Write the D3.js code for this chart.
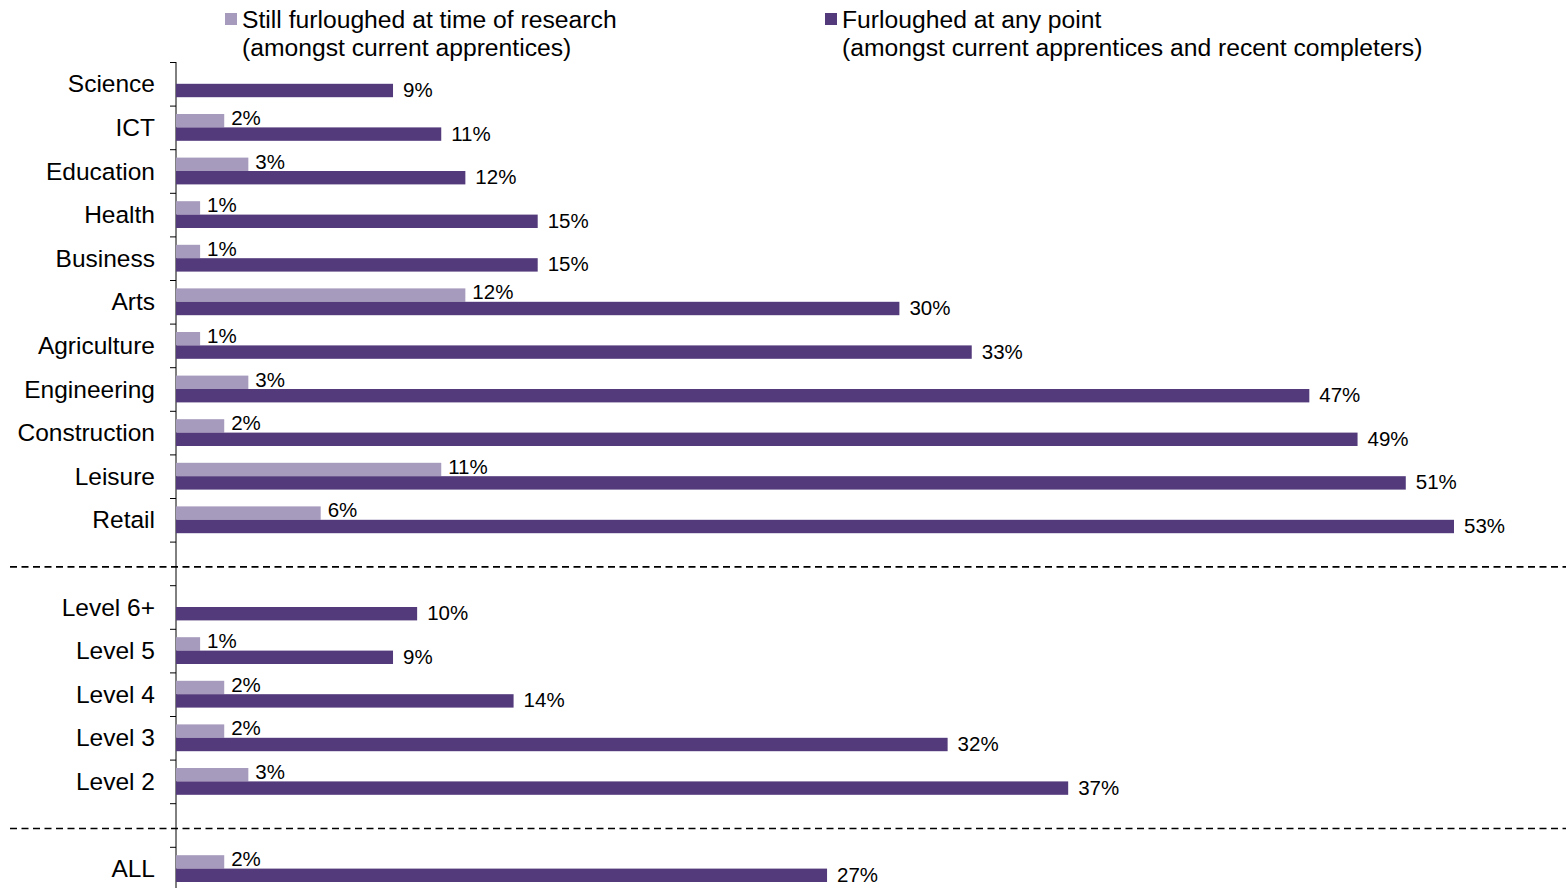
<!DOCTYPE html>
<html>
<head>
<meta charset="utf-8">
<script src="https://cdn.jsdelivr.net/npm/d3@7"></script>
<style>
  body { margin: 0; background: #fff; }
  svg { display: block; font-family: 'Liberation Sans', Arial, sans-serif; }
</style>
</head>
<body>
<div id="chart"></div>
<script>
// category rows, top to bottom (null = blank separator slot)
const categories = ['Science', 'ICT', 'Education', 'Health', 'Business', 'Arts', 'Agriculture',
  'Engineering', 'Construction', 'Leisure', 'Retail', null,
  'Level 6+', 'Level 5', 'Level 4', 'Level 3', 'Level 2', null, 'ALL']
// still furloughed at time of research (%)
const stillValues = [null, 2, 3, 1, 1, 12, 1, 3, 2, 11, 6, null,
  null, 1, 2, 2, 3, null, 2]
// furloughed at any point (%)
const anyValues = [9, 11, 12, 15, 15, 30, 33, 47, 49, 51, 53, null,
  10, 9, 14, 32, 37, null, 27]
const seriesNames = [
  ['Still furloughed at time of research', '(amongst current apprentices)'],
  ['Furloughed at any point', '(amongst current apprentices and recent completers)']
]

const width = 1566
const height = 888
const colors = ['#a69bbd', '#533a7b']
const barH = 13.4

const svg = d3.select('#chart').append('svg')
  .attr('width', width)
  .attr('height', height)

const slots = categories.map((d, i) => i)
const y = d3.scaleBand().domain(slots).range([62, 890.4]).padding(0)
const x = d3.scaleLinear().domain([0, d3.max(anyValues)]).range([176, 1454])
const bw = y.bandwidth()

// axis line + ticks at slot boundaries
svg.append('line')
  .attr('x1', x(0)).attr('x2', x(0))
  .attr('y1', y(0)).attr('y2', height)
  .attr('stroke', '#000').attr('stroke-width', 1)

svg.selectAll('.tick')
  .data(slots)
  .enter().append('line')
  .attr('class', 'tick')
  .attr('x1', x(0) - 6).attr('x2', x(0))
  .attr('y1', d => y(d) + 0.5).attr('y2', d => y(d) + 0.5)
  .attr('stroke', '#000').attr('stroke-width', 1)

// separator dashed lines
svg.selectAll('.sep')
  .data(slots.filter(i => categories[i] === null))
  .enter().append('line')
  .attr('class', 'sep')
  .attr('x1', 10).attr('x2', width)
  .attr('y1', d => y(d) + bw * 0.58).attr('y2', d => y(d) + bw * 0.58)
  .attr('stroke', '#000').attr('stroke-width', 1.6)
  .attr('stroke-dasharray', '7,4.5')

// category labels
svg.selectAll('.cat')
  .data(slots.filter(i => categories[i] !== null))
  .enter().append('text')
  .attr('class', 'cat')
  .attr('x', 155)
  .attr('y', d => y(d) + bw / 2)
  .attr('dy', '0.35em')
  .attr('text-anchor', 'end')
  .attr('font-size', 24.5)
  .attr('fill', '#000')
  .text(d => categories[d])

// still furloughed bars (upper)
const still = slots.filter(i => stillValues[i] != null)
svg.selectAll('.bar-still')
  .data(still)
  .enter().append('rect')
  .attr('class', 'bar-still')
  .attr('x', x(0))
  .attr('y', d => y(d) + bw / 2 - barH)
  .attr('width', d => x(stillValues[d]) - x(0))
  .attr('height', barH)
  .attr('fill', colors[0])

svg.selectAll('.lbl-still')
  .data(still)
  .enter().append('text')
  .attr('class', 'lbl-still')
  .attr('x', d => x(stillValues[d]) + 7)
  .attr('y', d => y(d) + bw / 2 - 9.5)
  .attr('dy', '0.35em')
  .attr('font-size', 20.5)
  .text(d => stillValues[d] + '%')

// furloughed at any point bars (lower)
const any = slots.filter(i => anyValues[i] != null)
svg.selectAll('.bar-any')
  .data(any)
  .enter().append('rect')
  .attr('class', 'bar-any')
  .attr('x', x(0))
  .attr('y', d => y(d) + bw / 2)
  .attr('width', d => x(anyValues[d]) - x(0))
  .attr('height', barH)
  .attr('fill', colors[1])

svg.selectAll('.lbl-any')
  .data(any)
  .enter().append('text')
  .attr('class', 'lbl-any')
  .attr('x', d => x(anyValues[d]) + 10)
  .attr('y', d => y(d) + bw / 2 + 6)
  .attr('dy', '0.35em')
  .attr('font-size', 20.5)
  .text(d => anyValues[d] + '%')

// legend
const legendX = [225, 825]
const legend = svg.selectAll('.legend')
  .data(seriesNames)
  .enter().append('g')
  .attr('class', 'legend')
  .attr('transform', (d, i) => `translate(${legendX[i]},0)`)

legend.append('rect')
  .attr('x', 0).attr('y', 13)
  .attr('width', 12).attr('height', 12)
  .attr('fill', (d, i) => colors[i])

legend.each(function (d) {
  const t = d3.select(this).append('text')
    .attr('font-size', 24.7)
    .attr('fill', '#000')
  d.forEach((line, j) => {
    t.append('tspan')
      .attr('x', 17)
      .attr('y', 28 + j * 28)
      .text(line)
  })
})
</script>
</body>
</html>
